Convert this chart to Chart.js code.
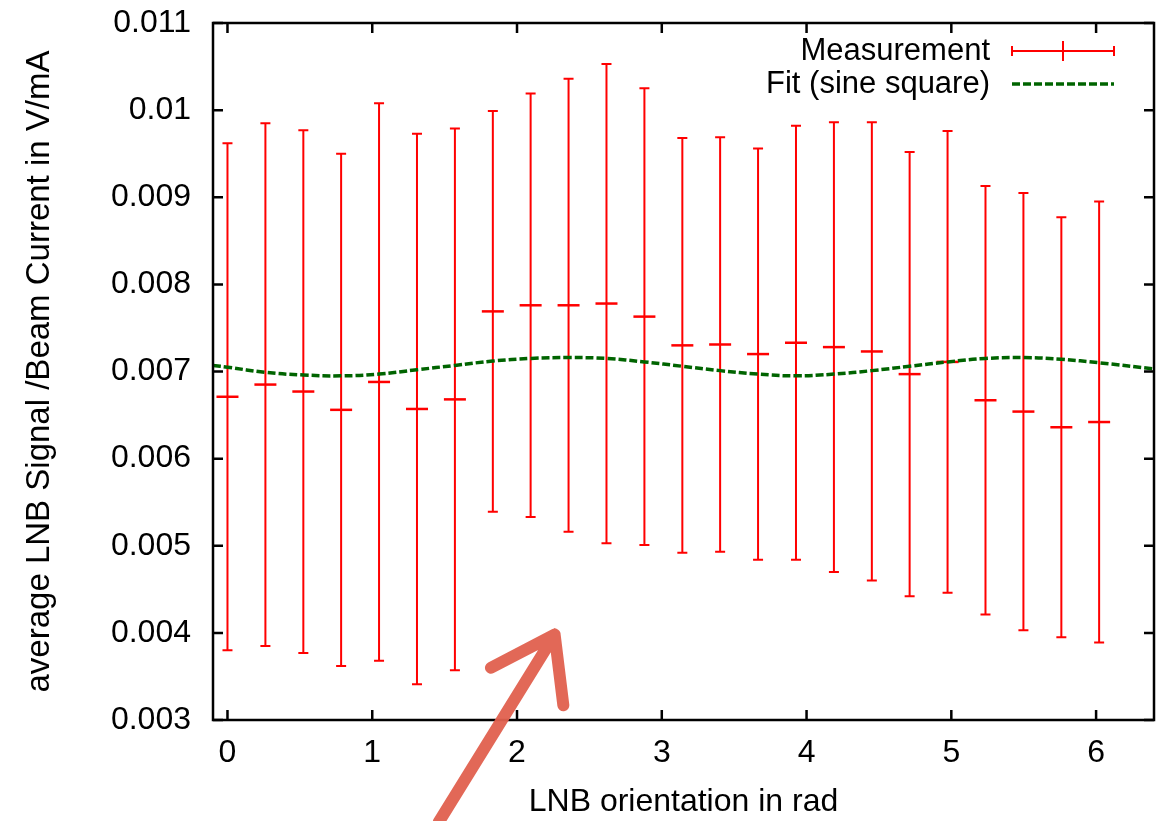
<!DOCTYPE html>
<html lang="en">
<head>
<meta charset="UTF-8">
<title>LNB orientation scan</title>
<script src="https://cdn.jsdelivr.net/npm/chart.js"></script>
<style>
  html, body { margin: 0; padding: 0; background: #ffffff; }
  #wrap { width: 1158px; height: 821px; }
</style>
</head>
<body>
<div id="wrap"><canvas id="lnbChart"></canvas></div>
<script>
// measured points: LNB orientation (rad), signal / beam current (V/mA), error (+/-)
const angles = [0, 0.262, 0.524, 0.785, 1.047, 1.309, 1.571, 1.833, 2.094, 2.356, 2.618, 2.880,
                3.142, 3.403, 3.665, 3.927, 4.189, 4.451, 4.712, 4.974, 5.236, 5.498, 5.760, 6.021];
const signal = [0.00671, 0.00685, 0.00677, 0.00656, 0.00688, 0.00657, 0.00668, 0.00769,
                0.00776, 0.00776, 0.00778, 0.00763, 0.00730, 0.00731, 0.00720, 0.00733,
                0.00728, 0.00723, 0.00697, 0.00711, 0.00667, 0.00654, 0.00636, 0.00642];
const signalErr = [0.00291, 0.00300, 0.00300, 0.00294, 0.00320, 0.00316, 0.00311, 0.00230,
                   0.00243, 0.00260, 0.00275, 0.00262, 0.00238, 0.00238, 0.00236, 0.00249,
                   0.00258, 0.00263, 0.00255, 0.00265, 0.00246, 0.00251, 0.00241, 0.00253];

// sine square fit, sampled along the x range
const fitAngles = [-0.1, 0, 0.262, 0.524, 0.785, 1.047, 1.309, 1.571, 1.833, 2.094, 2.356, 2.618, 2.880,
                   3.142, 3.403, 3.665, 3.927, 4.189, 4.451, 4.712, 4.974, 5.236, 5.498, 5.760, 6.021, 6.4];
const fitSignal = [0.00707, 0.00705, 0.00699, 0.00696, 0.00695, 0.00697, 0.00702, 0.00707, 0.00712,
                   0.00715, 0.00716, 0.00715, 0.00711, 0.00706, 0.00701, 0.00697, 0.00695, 0.00697,
                   0.00701, 0.00706, 0.00711, 0.00715, 0.00716, 0.00714, 0.00710, 0.00703];

const xTicks = [0, 1, 2, 3, 4, 5, 6];
const yTicks = [0.003, 0.004, 0.005, 0.006, 0.007, 0.008, 0.009, 0.010, 0.011];

// hand-drawn arrow mark, in data units: tail, tip, left barb, right barb
const arrowTail = [1.46, 0.00183];
const arrowTip = [2.26, 0.00398];
const arrowBarbs = [[1.82, 0.00360], [2.32, 0.00317]];

const RED = '#ff0000';
const GREEN = '#006400';
const FONT = '"Liberation Sans", Arial, Helvetica, sans-serif';

Chart.defaults.font.family = FONT;
Chart.defaults.font.size = 32;
Chart.defaults.color = '#000000';

// error bars, frame with inward ticks, legend and the arrow
const gnuplotLook = {
  id: 'gnuplotLook',
  beforeDatasetsDraw(chart) {
    const ctx = chart.ctx, xs = chart.scales.x, ys = chart.scales.y;
    ctx.save();
    ctx.strokeStyle = RED;
    ctx.lineWidth = 2;
    angles.forEach((a, i) => {
      const px = xs.getPixelForValue(a);
      const top = ys.getPixelForValue(signal[i] + signalErr[i]);
      const bot = ys.getPixelForValue(signal[i] - signalErr[i]);
      ctx.beginPath();
      ctx.moveTo(px, top); ctx.lineTo(px, bot);
      ctx.moveTo(px - 5, top); ctx.lineTo(px + 5, top);
      ctx.moveTo(px - 5, bot); ctx.lineTo(px + 5, bot);
      ctx.stroke();
    });
    ctx.restore();
  },
  afterDraw(chart) {
    const ctx = chart.ctx, xs = chart.scales.x, ys = chart.scales.y;
    const { left, right, top, bottom } = chart.chartArea;
    ctx.save();

    // border and mirrored tick marks pointing inwards
    ctx.strokeStyle = '#000000';
    ctx.lineWidth = 2.5;
    ctx.strokeRect(left, top, right - left, bottom - top);
    ctx.beginPath();
    xTicks.forEach(v => {
      const px = xs.getPixelForValue(v);
      ctx.moveTo(px, bottom); ctx.lineTo(px, bottom - 10);
      ctx.moveTo(px, top); ctx.lineTo(px, top + 10);
    });
    yTicks.forEach(v => {
      const py = ys.getPixelForValue(v);
      ctx.moveTo(left, py); ctx.lineTo(left + 10, py);
      ctx.moveTo(right, py); ctx.lineTo(right - 10, py);
    });
    ctx.stroke();

    // legend
    const textX = right - 164, sx0 = right - 142, sx1 = right - 40;
    const row1 = top + 28, row2 = top + 61;
    ctx.font = '31px ' + FONT;
    ctx.fillStyle = '#000000';
    ctx.textAlign = 'right';
    ctx.textBaseline = 'middle';
    ctx.fillText('Measurement', textX, row1);
    ctx.fillText('Fit (sine square)', textX, row2);
    ctx.strokeStyle = RED;
    ctx.lineWidth = 2;
    ctx.beginPath();
    ctx.moveTo(sx0, row1); ctx.lineTo(sx1, row1);
    ctx.moveTo(sx0, row1 - 5); ctx.lineTo(sx0, row1 + 5);
    ctx.moveTo(sx1, row1 - 5); ctx.lineTo(sx1, row1 + 5);
    const mid = (sx0 + sx1) / 2;
    ctx.moveTo(mid, row1 - 10); ctx.lineTo(mid, row1 + 10);
    ctx.stroke();
    ctx.strokeStyle = GREEN;
    ctx.lineWidth = 3.5;
    ctx.setLineDash([8, 3]);
    ctx.beginPath();
    ctx.moveTo(sx0, row2); ctx.lineTo(sx1, row2);
    ctx.stroke();
    ctx.setLineDash([]);

    // arrow
    const tip = [xs.getPixelForValue(arrowTip[0]), ys.getPixelForValue(arrowTip[1])];
    ctx.strokeStyle = 'rgba(224, 96, 78, 0.95)';
    ctx.lineWidth = 12;
    ctx.lineCap = 'round';
    ctx.lineJoin = 'round';
    ctx.beginPath();
    ctx.moveTo(xs.getPixelForValue(arrowTail[0]), ys.getPixelForValue(arrowTail[1]));
    ctx.lineTo(tip[0], tip[1]);
    arrowBarbs.forEach(b => {
      ctx.moveTo(tip[0], tip[1]);
      ctx.lineTo(xs.getPixelForValue(b[0]), ys.getPixelForValue(b[1]));
    });
    ctx.stroke();
    ctx.restore();
  }
};

// fixed axis boxes, no extra room for overhanging labels
function fitX(s) {
  s.height = 101;
  s.paddingLeft = 0; s.paddingRight = 0;
}
function fitY(s) {
  s.width = 213;
  s.paddingTop = 0; s.paddingBottom = 0;
}

new Chart(document.getElementById('lnbChart'), {
  type: 'scatter',
  data: {
    datasets: [
      {
        label: 'Fit (sine square)',
        data: fitAngles.map((a, i) => ({ x: a, y: fitSignal[i] })),
        showLine: true,
        borderColor: GREEN,
        borderWidth: 3.5,
        borderDash: [8, 3],
        pointRadius: 0,
        tension: 0.4,
        order: 0
      },
      {
        label: 'Measurement',
        data: angles.map((a, i) => ({ x: a, y: signal[i] })),
        pointStyle: 'line',
        pointRadius: 11,
        borderColor: RED,
        borderWidth: 2.5,
        order: 1
      }
    ]
  },
  options: {
    responsive: true,
    maintainAspectRatio: false,
    animation: false,
    layout: { autoPadding: false, padding: { top: 23, right: 4, left: 0, bottom: 0 } },
    plugins: { legend: { display: false }, tooltip: { enabled: false } },
    scales: {
      x: {
        type: 'linear',
        min: -0.1,
        max: 6.4,
        afterBuildTicks: s => { s.ticks = xTicks.map(v => ({ value: v })); },
        afterFit: fitX,
        grid: { display: false, drawTicks: false },
        border: { display: false },
        ticks: { padding: 14, font: { size: 32 }, callback: v => String(v) },
        title: { display: true, text: 'LNB orientation in rad', font: { size: 32 }, padding: { top: 0, bottom: 0 } }
      },
      y: {
        type: 'linear',
        min: 0.003,
        max: 0.011,
        afterBuildTicks: s => { s.ticks = yTicks.map(v => ({ value: v })); },
        afterFit: fitY,
        grid: { display: false, drawTicks: false },
        border: { display: false },
        ticks: { padding: 22, font: { size: 32 }, callback: v => String(+v.toFixed(3)) },
        title: { display: true, text: 'average LNB Signal /Beam Current in V/mA', font: { size: 33 }, padding: { top: 20, bottom: 0 } }
      }
    }
  },
  plugins: [gnuplotLook]
});
</script>
</body>
</html>
